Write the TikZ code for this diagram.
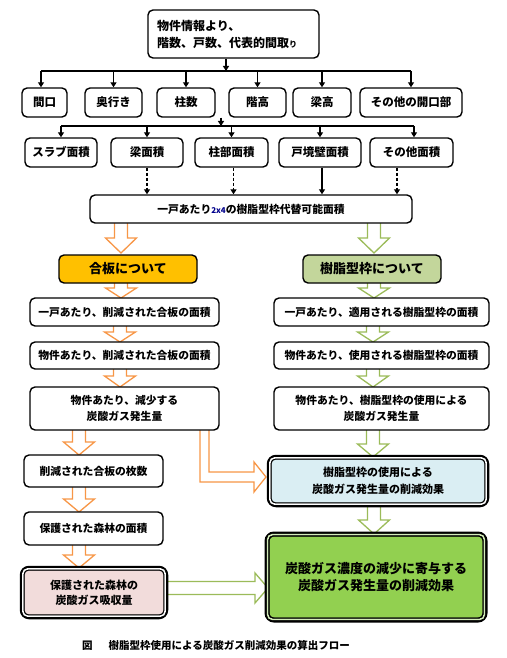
\documentclass[tikz,border=0pt]{standalone}
\usepackage{fontspec}
\setmainfont{Noto Sans CJK JP}
\usetikzlibrary{arrows.meta,calc}
\definecolor{ora}{HTML}{F79646}
\definecolor{grn}{HTML}{9BBB59}
\definecolor{gold}{HTML}{FFC000}
\definecolor{lgrn}{HTML}{C3D69B}
\definecolor{fgrn}{HTML}{92D050}
\definecolor{lblue}{HTML}{DAEEF3}
\definecolor{lpink}{HTML}{F2DCDB}
\newcommand\hdown[5]{%
  \draw[harr,draw=#1] (#2-6.5,#3) -- (#2-6.5,#4-#5) -- (#2-15.5,#4-#5) -- (#2,#4) -- (#2+15.5,#4-#5) -- (#2+6.5,#4-#5) -- (#2+6.5,#3);}
\newcommand\innerline[2]{%
  \draw[#2, line width=1.6pt, rounded corners=5pt] ([xshift=3.1pt,yshift=-3.1pt]#1.north west) rectangle ([xshift=-3.1pt,yshift=3.1pt]#1.south east);
  \draw[black, line width=0.9pt, rounded corners=4pt] ([xshift=4.5pt,yshift=-4.5pt]#1.north west) rectangle ([xshift=-4.5pt,yshift=4.5pt]#1.south east);}
\begin{document}
\begin{tikzpicture}[x=1pt,y=-1pt,
  box/.style={draw=black, line width=1.4pt, rounded corners=5pt, fill=white, inner sep=0pt, align=center, font=\bfseries\fontsize{10.8}{16}\selectfont},
  r1/.style={box, minimum height=29pt, font=\bfseries\fontsize{11.5}{14}\selectfont},
  mid/.style={box, minimum width=189pt},
  rmid/.style={box, minimum width=215pt},
  thickbox/.style={box, line width=4.5pt, rounded corners=7pt},
  arr/.style={line width=1.3pt, -{Triangle[length=5pt,width=6pt]}},
  darr/.style={arr, dash pattern=on 3pt off 2pt},
  bus/.style={line width=1.3pt},
  harr/.style={line width=1.3pt, fill=white, line join=miter}]
\useasboundingbox (0,0) rectangle (506,658);

% hollow block arrows
\hdown{ora}{121}{223}{253}{15}
\hdown{grn}{374}{223}{253}{15}
\hdown{ora}{121}{283}{298}{10}
\hdown{grn}{374}{283}{298}{10}
\hdown{ora}{120}{326}{342}{10}
\hdown{grn}{373}{326}{342}{10}
\hdown{ora}{120}{369}{387}{11}
\hdown{grn}{373}{369}{387}{11}
\hdown{ora}{79}{430}{455}{13}
\hdown{grn}{373}{430}{457}{13}
\hdown{ora}{79}{487}{512}{13}
\hdown{ora}{79}{545}{568}{13}
\hdown{grn}{374}{505}{534}{14}
\draw[harr, draw=ora] (200,430) -- (200,482) -- (254,482) -- (254,492) -- (266,477) -- (254,462) -- (254,472) -- (209,472) -- (209,430);
\draw[harr, draw=grn] (166,581.5) -- (255,581.5) -- (255,573) -- (268,588) -- (255,603) -- (255,594.5) -- (166,594.5);

% nodes
\node[box, minimum width=171pt, minimum height=48pt, text width=153pt, align=left, font=\bfseries\fontsize{12}{17}\selectfont] (top) at (233.5,34) {物件情報より、\\階数、戸数、代表的間取{\fontsize{8}{8}\selectfont り}};

\node[r1, minimum width=45pt] (maguchi) at (44.5,102.5) {間口};
\node[r1, minimum width=57pt] (okuyuki) at (113.5,102.5) {奥行き};
\node[r1, minimum width=58pt] (hashirasu) at (186,102.5) {柱数};
\node[r1, minimum width=57pt] (kaidaka) at (257.5,102.5) {階高};
\node[r1, minimum width=58pt] (haridaka) at (322,102.5) {梁高};
\node[r1, minimum width=102pt] (kaikou) at (411,102.5) {その他の開口部};

\node[r1, minimum width=72pt] (slab) at (61,152.5) {スラブ面積};
\node[r1, minimum width=72pt] (harimen) at (147,152.5) {梁面積};
\node[r1, minimum width=73pt] (hashirabu) at (231.5,152.5) {柱部面積};
\node[r1, minimum width=82pt] (kokyou) at (320,152.5) {戸境壁面積};
\node[r1, minimum width=83pt] (sonotamen) at (411.5,152.5) {その他面積};

\node[box, minimum width=322pt, minimum height=28pt] (kanou) at (251,209) {一戸あたり{\fontsize{8}{8}\selectfont\color{blue!55!black}2x4}の樹脂型枠代替可能面積};

\node[box, fill=gold, minimum width=138pt, minimum height=28pt, font=\bfseries\fontsize{13}{16}\selectfont] (gouhan) at (128,269) {合板について};
\node[box, fill=lgrn, minimum width=138pt, minimum height=28pt, font=\bfseries\fontsize{13}{16}\selectfont] (jushi) at (372,269) {樹脂型枠について};

\node[mid, minimum height=28pt] (l1) at (124.5,312) {一戸あたり、削減された合板の面積};
\node[rmid, minimum height=28pt] (r1n) at (381.5,312) {一戸あたり、適用される樹脂型枠の面積};
\node[mid, minimum height=27pt] (l2) at (124.5,355.5) {物件あたり、削減された合板の面積};
\node[rmid, minimum height=27pt] (r2n) at (381.5,355.5) {物件あたり、使用される樹脂型枠の面積};
\node[mid, minimum height=43pt] (l3) at (124.5,408.5) {物件あたり、減少する\\炭酸ガス発生量};
\node[rmid, minimum height=43pt] (r3n) at (381.5,408.5) {物件あたり、樹脂型枠の使用による\\炭酸ガス発生量};

\node[box, minimum width=139pt, minimum height=32pt] (l4) at (93.5,471) {削減された合板の枚数};
\node[box, minimum width=139pt, minimum height=33pt] (l5) at (93.5,528.5) {保護された森林の面積};
\node[thickbox, fill=lpink, minimum width=144pt, minimum height=49pt, font=\bfseries\fontsize{11}{15}\selectfont] (l6) at (94,592.5) {保護された森林の\\炭酸ガス吸収量};
\innerline{l6}{white}

\node[thickbox, fill=lblue, minimum width=218pt, minimum height=48pt, font=\bfseries\fontsize{11}{17}\selectfont] (blue) at (378,481) {樹脂型枠の使用による\\炭酸ガス発生量の削減効果};
\innerline{blue}{white}

\node[thickbox, fill=fgrn, minimum width=218pt, minimum height=86pt, line width=5pt, font=\bfseries\fontsize{13}{16.5}\selectfont] (final) at (376,577) {炭酸ガス濃度の減少に寄与する\\炭酸ガス発生量の削減効果};
\innerline{final}{fgrn!40!white}

% connectors
\coordinate (b1) at (226,71);
\draw[arr] (b1 |- top.south) -- (b1);
\draw[bus] ([xshift=-3.5pt]maguchi.north |- b1) -- (kaikou.north |- b1);
\foreach \n in {okuyuki,hashirasu,kaidaka,haridaka,kaikou}
  \draw[arr] (\n.north |- b1) -- (\n.north);
\draw[arr] ([xshift=-3.5pt]maguchi.north |- b1) -- ([xshift=-3.5pt]maguchi.north);

\coordinate (b2) at (221,126);
\draw[arr] (b2 |- maguchi.south) -- (b2);
\draw[bus] (slab.north |- b2) -- ([xshift=2.5pt]sonotamen.north |- b2);
\foreach \n in {slab,harimen,hashirabu,kokyou}
  \draw[arr] (\n.north |- b2) -- (\n.north);
\draw[arr] ([xshift=2.5pt]sonotamen.north |- b2) -- ([xshift=2.5pt]sonotamen.north);

\draw[darr] (harimen.south) -- (harimen.south |- kanou.north);
\draw[darr] ([xshift=2pt]hashirabu.south) -- ([xshift=2pt]hashirabu.south |- kanou.north);
\draw[arr] ([xshift=2pt]kokyou.south) -- ([xshift=2pt]kokyou.south |- kanou.north);
\coordinate (d4) at (397,0);
\draw[darr] (d4 |- sonotamen.south) -- (d4 |- kanou.north);

% caption
\node[anchor=west, inner sep=0pt, font=\bfseries\fontsize{10.5}{12}\selectfont] (cap) at (82,645) {図\hspace{16pt}樹脂型枠使用による炭酸ガス削減効果の算出フロー};
\end{tikzpicture}
\end{document}
